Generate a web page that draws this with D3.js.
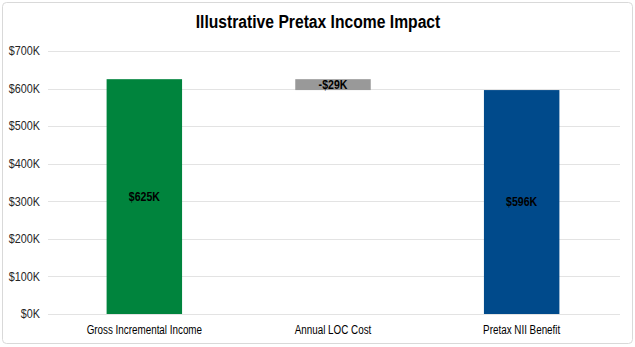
<!DOCTYPE html>
<html><head><meta charset="utf-8">
<script src="https://cdn.jsdelivr.net/npm/d3@7"></script>
<style>
body{margin:0;background:#fff;}
svg{display:block;}
text{font-family:"Liberation Sans Narrow","Arial Narrow","Liberation Sans",Arial,sans-serif;}
</style></head>
<body>
<svg id="c" width="635" height="347"></svg>
<script>
const categories = ["Gross Incremental Income", "Annual LOC Cost", "Pretax NII Benefit"];
const barStart = [0, 596, 0];
const barEnd = [625, 625, 596];
const barLabels = ["$625K", "-$29K", "$596K"];
const barColors = ["#00843D", "#999999", "#004A8B"];
const yTicks = [0, 100, 200, 300, 400, 500, 600, 700];

const svg = d3.select("#c");
const W = 635, H = 347;
const m = {left: 50, right: 19, top: 51, bottom: 33};

function condense(sel, f) {
  sel.each(function() {
    const w = this.getComputedTextLength();
    this.setAttribute("textLength", (w * f).toFixed(2));
    this.setAttribute("lengthAdjust", "spacingAndGlyphs");
  });
}

svg.append("rect").attr("x", 2.5).attr("y", 2.5).attr("width", W - 5).attr("height", H - 6)
  .attr("rx", 4).attr("fill", "#fff").attr("stroke", "#d9d9d9");

const x = d3.scaleBand().domain(categories).range([m.left, W - m.right]).paddingInner(0.6).paddingOuter(0.3);
const y = d3.scaleLinear().domain([0, 700]).range([H - m.bottom, m.top]);

// gridlines
svg.append("g").selectAll("line").data(yTicks).join("line")
  .attr("x1", 48).attr("x2", 620)
  .attr("y1", d => Math.round(y(d)) + 0.5).attr("y2", d => Math.round(y(d)) + 0.5)
  .attr("stroke", "#e3e3e3").attr("stroke-width", 1);

const yAxis = d3.axisLeft(y).tickValues(yTicks).tickSize(0).tickPadding(0).tickFormat(d => "$" + d + "K");
const ya = svg.append("g").attr("transform", `translate(40,0)`).call(yAxis);
ya.select(".domain").remove();
ya.selectAll("text").attr("font-size", 12).attr("fill", "#262626")
  .style("font-family", '"Liberation Sans","Arial",sans-serif').call(condense, 0.9);

// bars
const idx = categories.map((c, i) => i);
svg.append("g").selectAll("rect").data(idx).join("rect")
  .attr("x", i => x(categories[i]))
  .attr("width", x.bandwidth())
  .attr("y", i => y(barEnd[i]))
  .attr("height", i => y(barStart[i]) - y(barEnd[i]))
  .attr("fill", i => barColors[i]);

svg.append("g").selectAll("text").data(idx).join("text")
  .attr("x", i => x(categories[i]) + x.bandwidth() / 2)
  .attr("y", i => (y(barStart[i]) + y(barEnd[i])) / 2)
  .attr("dy", "0.35em")
  .attr("text-anchor", "middle")
  .attr("font-size", 12).attr("font-weight", "bold").attr("fill", "#000")
  .style("font-family", '"Liberation Sans","Arial",sans-serif')
  .text(i => barLabels[i]).call(condense, 0.88);

const xAxis = d3.axisBottom(x).tickSize(0).tickPadding(11);
const xa = svg.append("g").attr("transform", `translate(0,${H - m.bottom})`).call(xAxis);
xa.select(".domain").remove();
xa.selectAll("text").attr("font-size", 12).attr("fill", "#000")
  .style("font-family", '"Liberation Sans","Arial",sans-serif').call(condense, 0.82);

svg.append("text").attr("x", 318).attr("y", 28).attr("text-anchor", "middle")
  .attr("font-size", 18).attr("font-weight", "bold").attr("fill", "#000")
  .style("font-family", '"Liberation Sans","Arial",sans-serif')
  .text("Illustrative Pretax Income Impact").call(condense, 0.87);
</script>
</body></html>
